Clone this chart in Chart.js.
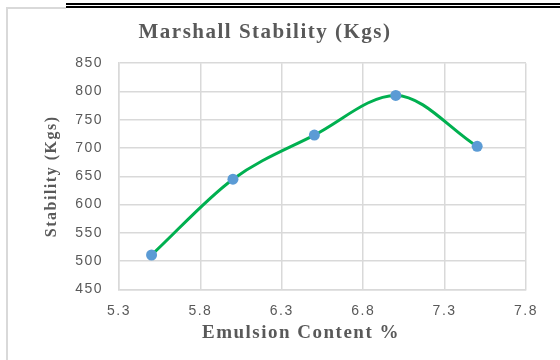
<!DOCTYPE html>
<html>
<head>
<meta charset="utf-8">
<script src="https://cdn.jsdelivr.net/npm/chart.js@4.4.0/dist/chart.umd.min.js"></script>
<style>
  html, body { margin: 0; padding: 0; background: #fff; }
  #wrap { position: relative; width: 560px; height: 360px; overflow: hidden; }
  #chart { position: absolute; left: 0; top: 0; }
  .rule { position: absolute; }
</style>
</head>
<body>
<div id="wrap">
  <canvas id="chart" width="560" height="360"></canvas>
  <!-- page frame around the figure -->
  <div class="rule" style="left:66px;top:3px;width:494px;height:1.5px;background:#000"></div>
  <div class="rule" style="left:66px;top:6px;width:494px;height:1.5px;background:#000"></div>
  <div class="rule" style="left:6px;top:7px;width:60px;height:1.5px;background:#d9d9d9"></div>
  <div class="rule" style="left:6px;top:7px;width:2px;height:353px;background:#d9d9d9"></div>
</div>
<script>
// Datos del gráfico
const emulsion = [5.5, 6.0, 6.5, 7.0, 7.5];
const stability = [511, 645, 723, 793, 703];
const xMin = 5.3, xMax = 7.8, xStep = 0.5;
const yMin = 450, yMax = 850, yStep = 50;
const xTitle = 'Emulsion Content %';

const gridColor = '#d9d9d9';
const textColor = '#595959';
const serif = '"Liberation Serif", "Times New Roman", serif';
const sans = '"Liberation Sans", Arial, sans-serif';

// the original text is drawn wide, so open up the letters a bit
const wideText = {
  id: 'wideText',
  beforeDraw(chart) {
    chart.ctx.letterSpacing = '1.5px';
  },
  afterDraw(chart) {
    // x axis title, sits a little left of the plot centre in the original
    const c = chart.ctx;
    c.save();
    c.font = 'bold 19px ' + serif;
    c.fillStyle = textColor;
    c.textAlign = 'center';
    c.textBaseline = 'middle';
    c.fillText(xTitle, 301, 333);
    c.restore();
  }
};

const ctx = document.getElementById('chart').getContext('2d');

new Chart(ctx, {
  type: 'scatter',
  data: {
    datasets: [{
      label: 'Stability',
      data: emulsion.map((x, i) => ({ x, y: stability[i] })),
      showLine: true,
      borderColor: '#00b050',
      borderWidth: 3,
      cubicInterpolationMode: 'monotone',
      pointRadius: 5.5,
      pointBackgroundColor: '#5b9bd5',
      pointBorderColor: '#5b9bd5',
      pointBorderWidth: 0,
    }]
  },
  options: {
    responsive: false,
    animation: false,
    layout: { padding: { left: 4, right: 34, top: 0, bottom: 0 } },
    plugins: {
      legend: { display: false },
      tooltip: { enabled: false },
      title: {
        display: true,
        text: 'Marshall Stability (Kgs)',
        color: textColor,
        font: { family: serif, size: 21, weight: 'bold' },
        padding: { top: 20, bottom: 18 }
      }
    },
    scales: {
      x: {
        type: 'linear',
        min: xMin,
        max: xMax,
        afterFit: (scale) => { scale.height = 70.5; },
        grid: { color: gridColor, lineWidth: 1.5, drawTicks: false },
        border: { color: gridColor, width: 1.5 },
        ticks: {
          stepSize: xStep,
          padding: 13,
          color: textColor,
          font: { family: sans, size: 14 },
          callback: (v) => v.toFixed(1)
        }
      },
      y: {
        min: yMin,
        max: yMax,
        afterFit: (scale) => { scale.width = 115; },
        grid: { color: gridColor, lineWidth: 1.5, drawTicks: false },
        border: { color: gridColor, width: 1.5 },
        ticks: {
          stepSize: yStep,
          padding: 16,
          color: textColor,
          font: { family: sans, size: 14 }
        },
        title: {
          display: true,
          text: 'Stability (Kgs)',
          color: textColor,
          font: { family: serif, size: 16, weight: 'bold' },
          padding: { top: 38, bottom: 0 }
        }
      }
    }
  },
  plugins: [wideText]
});
</script>
</body>
</html>
